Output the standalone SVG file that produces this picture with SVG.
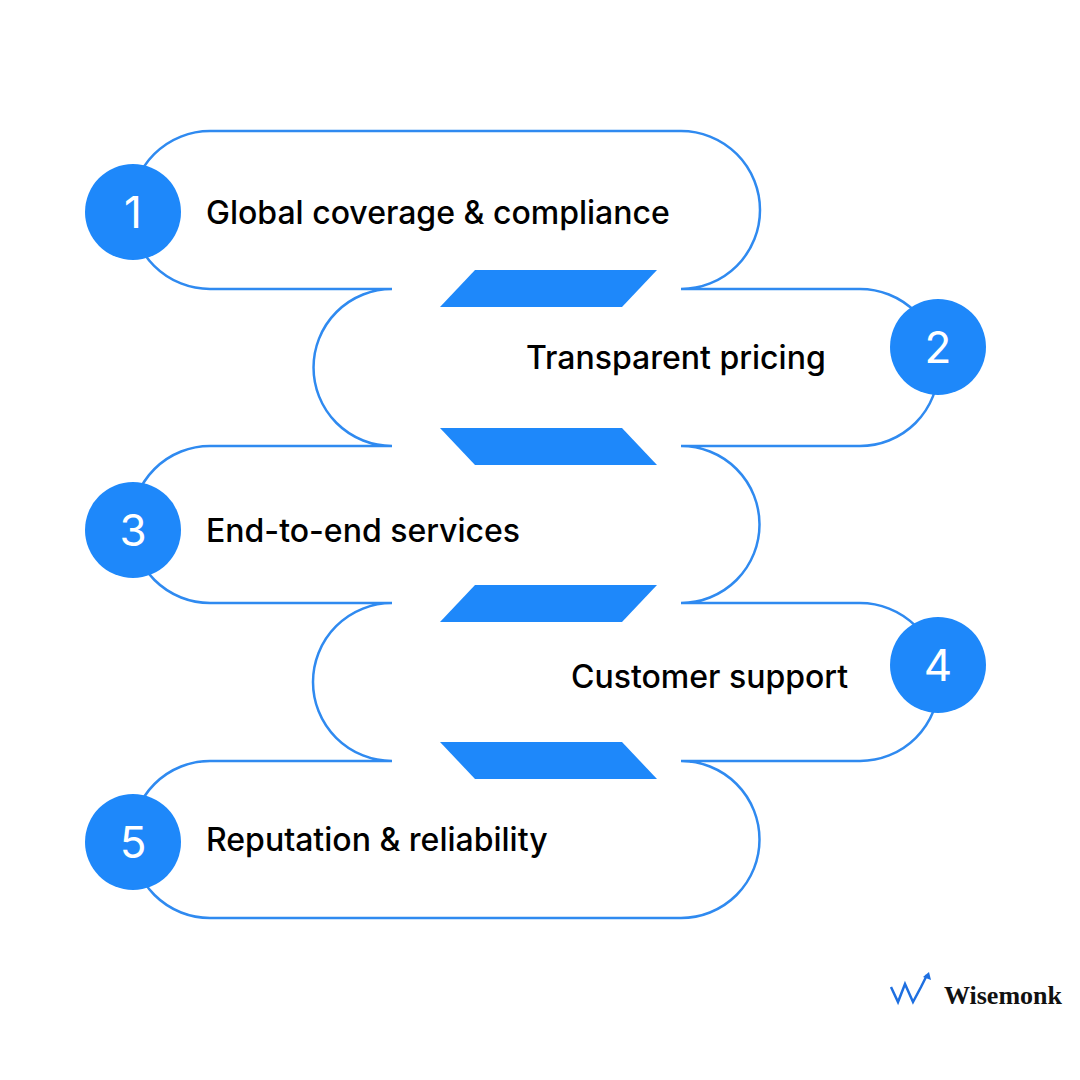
<svg xmlns="http://www.w3.org/2000/svg" width="1080" height="1080" viewBox="0 0 1080 1080">
<style>
.snake{fill:#fff;stroke:#2F8AF0;stroke-width:2.5}
.bar{fill:#1E88FA}
.c{fill:#1E88FA}
.n{fill:#fff;font-family:Inter,"Liberation Sans",sans-serif;font-size:44px;font-weight:400;text-anchor:middle}
.t{fill:#000;font-family:Inter,"Liberation Sans",sans-serif;font-size:32px;font-weight:500}
.logo{fill:#111;font-family:"Liberation Serif",serif;font-size:26px;font-weight:700}
</style>
<rect width="1080" height="1080" fill="#fff"/>
<g id="connectors">
<path class="snake" d="M210 131 L681 131 A79 79 0 0 1 681 289 L860 289 A78.5 78.5 0 0 1 860 446 L681 446 A78.5 78.5 0 0 1 681 603 L860 603 A79 79 0 0 1 860 761 L681 761 A78.5 78.5 0 0 1 681 918 L210 918 A78.5 78.5 0 0 1 210 761 L392 761 A79 79 0 0 1 392 603 L210 603 A78.5 78.5 0 0 1 210 446 L392 446 A78.5 78.5 0 0 1 392 289 L210 289 A79 79 0 0 1 210 131 Z"/>
<polygon class="bar" points="475,270 657,270 622,307 440,307"/>
<polygon class="bar" points="440,428 622,428 657,465 475,465"/>
<polygon class="bar" points="475,585 657,585 622,622 440,622"/>
<polygon class="bar" points="440,742 622,742 657,779 475,779"/>
</g>
<g id="node1"><circle class="c" cx="133" cy="212" r="48"/><text class="n" x="133" y="228">1</text><text class="t" x="206" y="224">Global coverage &amp; compliance</text></g>
<g id="node2"><circle class="c" cx="938" cy="347" r="48"/><text class="n" x="938" y="363">2</text><text class="t" x="526" y="369">Transparent pricing</text></g>
<g id="node3"><circle class="c" cx="133" cy="530" r="48"/><text class="n" x="133" y="546">3</text><text class="t" x="206" y="542">End-to-end services</text></g>
<g id="node4"><circle class="c" cx="938" cy="665" r="48"/><text class="n" x="938" y="681">4</text><text class="t" x="571" y="688">Customer support</text></g>
<g id="node5"><circle class="c" cx="133" cy="842" r="48"/><text class="n" x="133" y="858">5</text><text class="t" x="206" y="851">Reputation &amp; reliability</text></g>
<g id="logo">
<path d="M891 987 L898 1002 L905 984 L913 1002 L921 987 L927 975" fill="none" stroke="#1E6FE0" stroke-width="2.5"/>
<path d="M923 977 L929 972 L931 980 Z" fill="#1E6FE0"/>
<text class="logo" x="944" y="1004">Wisemonk</text>
</g>
</svg>
